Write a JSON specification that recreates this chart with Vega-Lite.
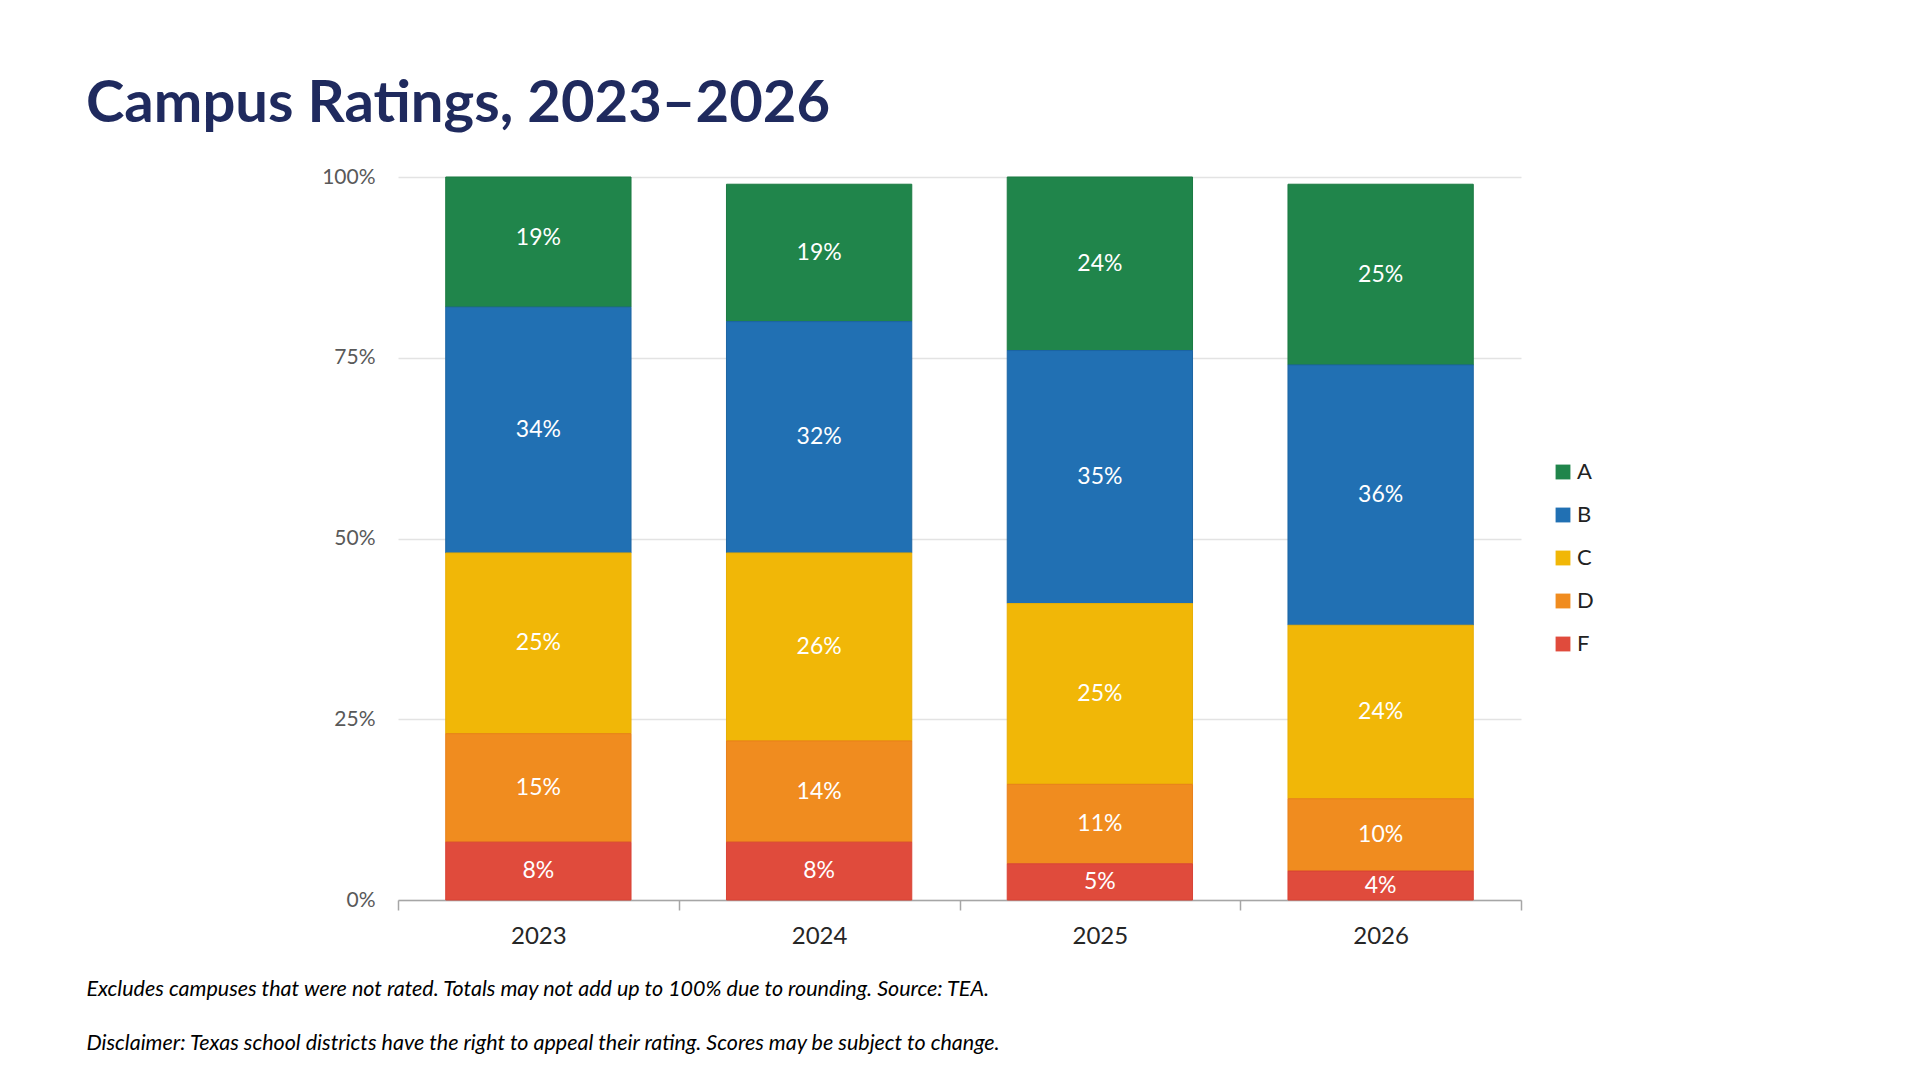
{
  "$schema": "https://vega.github.io/schema/vega-lite/v6.json",
  "autosize": {"type": "none"},
  "width": 1123,
  "height": 723,
  "padding": {"left": 398, "top": 177, "right": 399, "bottom": 180},
  "background": "white",
  "config": {
    "font": "Lato",
    "view": {"stroke": null}
  },
  "title": {
    "text": "Campus Ratings, 2023–2026",
    "anchor": "start",
    "frame": "group",
    "dx": -312,
    "dy": 59,
    "baseline": "alphabetic",
    "offset": 45,
    "fontSize": 58,
    "fontWeight": "bold",
    "color": "#1F2A5E"
  },
  "data": {
    "values": [
      {"year": "2023", "grade": "A", "share": 0.19},
      {"year": "2023", "grade": "B", "share": 0.34},
      {"year": "2023", "grade": "C", "share": 0.25},
      {"year": "2023", "grade": "D", "share": 0.15},
      {"year": "2023", "grade": "F", "share": 0.08},
      {"year": "2024", "grade": "A", "share": 0.19},
      {"year": "2024", "grade": "B", "share": 0.32},
      {"year": "2024", "grade": "C", "share": 0.26},
      {"year": "2024", "grade": "D", "share": 0.14},
      {"year": "2024", "grade": "F", "share": 0.08},
      {"year": "2025", "grade": "A", "share": 0.24},
      {"year": "2025", "grade": "B", "share": 0.35},
      {"year": "2025", "grade": "C", "share": 0.25},
      {"year": "2025", "grade": "D", "share": 0.11},
      {"year": "2025", "grade": "F", "share": 0.05},
      {"year": "2026", "grade": "A", "share": 0.25},
      {"year": "2026", "grade": "B", "share": 0.36},
      {"year": "2026", "grade": "C", "share": 0.24},
      {"year": "2026", "grade": "D", "share": 0.10},
      {"year": "2026", "grade": "F", "share": 0.04}
    ]
  },
  "transform": [
    {"stack": "share", "groupby": ["year"], "sort": [{"field": "grade", "order": "descending"}], "as": ["lo", "hi"]},
    {"calculate": "(datum.lo + datum.hi) / 2", "as": "mid"}
  ],
  "encoding": {
    "x": {
      "field": "year",
      "type": "nominal",
      "scale": {"paddingInner": 0, "paddingOuter": 0},
      "axis": {
        "labelAngle": 0,
        "labelFontSize": 24,
        "labelColor": "#262626",
        "labelPadding": 14,
        "domainColor": "#A6A6A6",
        "domainWidth": 1.5,
        "tickColor": "#A6A6A6",
        "tickWidth": 1.5,
        "tickSize": 10,
        "tickBand": "extent",
        "title": [
          "Excludes campuses that were not rated. Totals may not add up to 100% due to rounding. Source: TEA.",
          "Disclaimer: Texas school districts have the right to appeal their rating. Scores may be subject to change."
        ],
        "titleFontSize": 21.5,
        "titleFontWeight": "normal",
        "titleFontStyle": "italic",
        "titleColor": "#000000",
        "titleAnchor": "start",
        "titleAlign": "left",
        "titleBaseline": "alphabetic",
        "titleX": -312,
        "titleY": 95,
        "titleLineHeight": 54
      }
    }
  },
  "layer": [
    {
      "mark": {"type": "bar", "strokeWidth": 1, "width": {"band": 0.66}},
      "encoding": {
        "y": {
          "field": "lo",
          "type": "quantitative",
          "scale": {"domain": [0, 1], "clamp": true},
          "axis": {
            "values": [0, 0.25, 0.5, 0.75, 1],
            "format": ".0%",
            "title": null,
            "domain": false,
            "ticks": false,
            "labelFontSize": 21,
            "labelColor": "#595959",
            "labelPadding": 23,
            "gridColor": "#E3E3E3",
            "gridWidth": 1.5
          }
        },
        "y2": {"field": "hi"},
        "color": {
          "field": "grade",
          "type": "nominal",
          "scale": {
            "domain": ["A", "B", "C", "D", "F"],
            "range": ["#20854B", "#2170B3", "#F1B707", "#F08C1F", "#E04B3C"]
          },
          "legend": {
            "title": null,
            "orient": "none",
            "legendX": 1154,
            "legendY": 284,
            "symbolType": "square",
            "symbolSize": 220,
            "symbolStrokeWidth": 0,
            "labelFontSize": 22,
            "labelColor": "#222222",
            "labelOffset": 3,
            "rowPadding": 21
          }
        },
        "stroke": {"field": "grade", "type": "nominal", "legend": null, "scale": {"domain": ["A", "B", "C", "D", "F"], "range": ["#1B7A42", "#1C64A3", "#E8AE05", "#E8801A", "#D84335"]}}
      }
    },
    {
      "mark": {"type": "text", "color": "white", "fontSize": 23, "baseline": "middle"},
      "encoding": {
        "y": {"field": "mid", "type": "quantitative"},
        "text": {"field": "share", "type": "quantitative", "format": ".0%"}
      }
    }
  ]
}
